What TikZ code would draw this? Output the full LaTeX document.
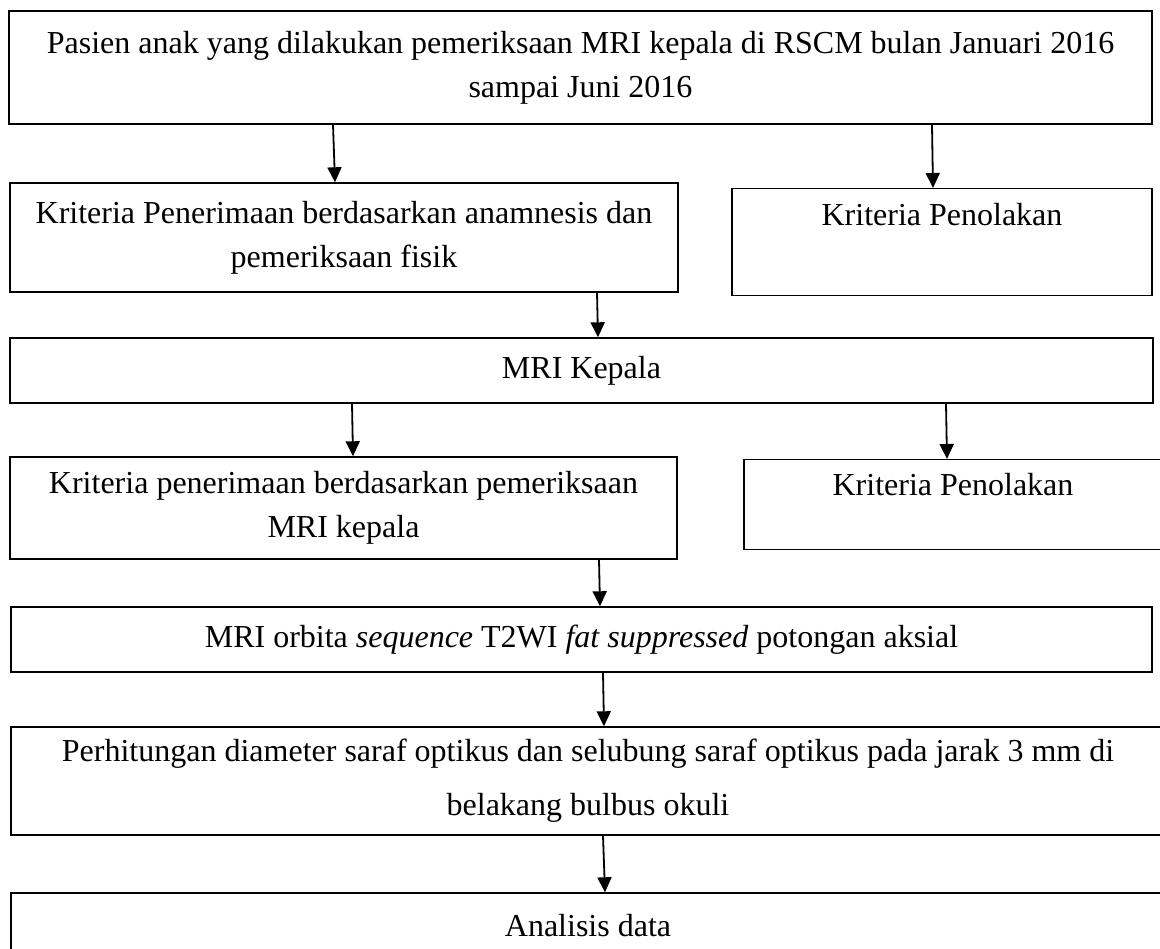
\documentclass[tikz,border=0pt]{standalone}
\usepackage{fontspec}
\setmainfont{Liberation Serif}
\usepackage{tikz}
\usetikzlibrary{arrows.meta, positioning}
\tikzset{
  box/.style={rectangle, draw=black, line width=1.4pt, fill=white,
              inner sep=0pt, align=center,
              font=\fontsize{32}{44}\selectfont},
  arr/.style={-{Triangle[length=15pt, width=14pt]}, line width=1.8pt},
}

\begin{document}
\begin{tikzpicture}[x=1pt, y=-1pt]
  \useasboundingbox (0,0) rectangle (1160,949);

  %% === Top: population ===
  \node[box, minimum width=1143pt, minimum height=113pt] (pasien) at (580.5,67.5)
        {Pasien anak yang dilakukan pemeriksaan MRI kepala di RSCM bulan Januari 2016\\sampai Juni 2016};

  %% === First selection ===
  \node[box, minimum width=668pt, minimum height=109pt] (terima1) at (344,237.5)
        {Kriteria Penerimaan berdasarkan anamnesis dan\\pemeriksaan fisik};
  \node[box, anchor=north, minimum width=420pt, text height=37pt, text depth=70pt]
        (tolak1) at (942,188) {Kriteria Penolakan};

  \node[box, minimum width=1143pt, minimum height=65pt] (kepala) at (581.5,370.5) {MRI Kepala};

  %% === Second selection ===
  \node[box, minimum width=667pt, minimum height=102pt] (terima2) at (343.5,508)
        {Kriteria penerimaan berdasarkan pemeriksaan\\MRI kepala};
  \node[box, anchor=north, minimum width=418pt, text height=36pt, text depth=54pt]
        (tolak2) at (953,459) {Kriteria Penolakan};

  %% === Imaging and measurement ===
  \node[box, minimum width=1141pt, minimum height=65pt] (orbita) at (581.5,639.5)
        {MRI orbita \textit{sequence} T2WI \textit{fat suppressed} potongan aksial};
  \node[box, minimum width=1154pt, minimum height=108pt,
        font=\fontsize{32}{54}\selectfont] (hitung) at (588,781)
        {Perhitungan diameter saraf optikus dan selubung saraf optikus pada jarak 3 mm di\\belakang bulbus okuli};
  \node[box, minimum width=1154pt, minimum height=65pt] (analisis) at (588,925.5) {Analisis data};

  %% === Arrows ===
  \draw[arr] (pasien.south -| 333,0)  -- (terima1.north -| 335,0);
  \draw[arr] (pasien.south -| 932,0)  -- (tolak1.north -| 933,0);
  \draw[arr] (terima1.south -| 597,0) -- (kepala.north -| 598,0);
  \draw[arr] (kepala.south -| 352,0)  -- (terima2.north -| 353,0);
  \draw[arr] (kepala.south -| 946,0)  -- (tolak2.north -| 947,0);
  \draw[arr] (terima2.south -| 599,0) -- (orbita.north -| 600,0);
  \draw[arr] (orbita.south -| 603,0)  -- (hitung.north -| 604,0);
  \draw[arr] (hitung.south -| 603,0)  -- (analisis.north -| 605,0);
\end{tikzpicture}
\end{document}
